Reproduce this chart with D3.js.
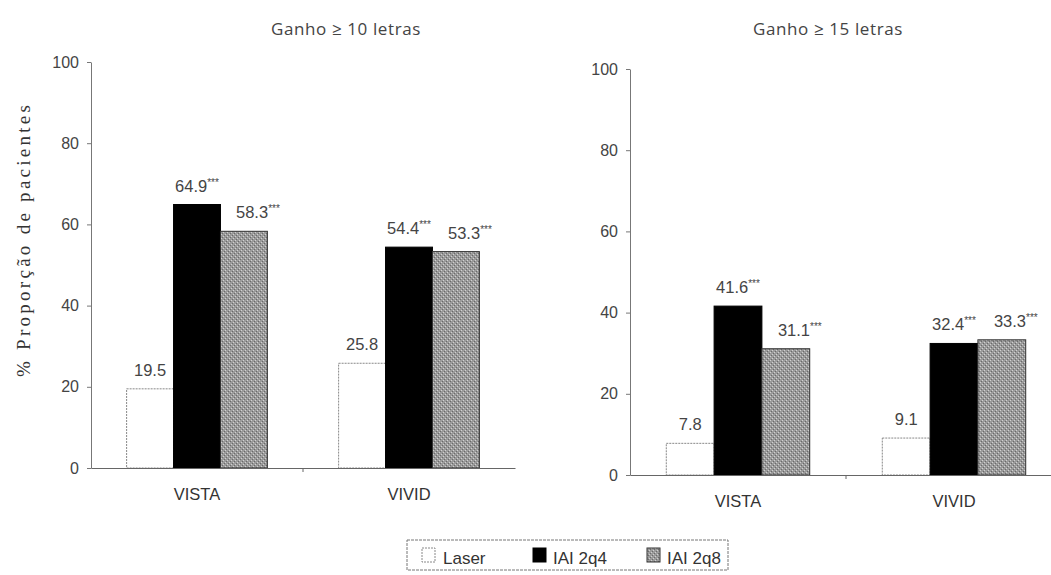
<!DOCTYPE html>
<html>
<head>
<meta charset="utf-8">
<script src="https://cdn.jsdelivr.net/npm/d3@7"></script>
<style>
  html, body { margin: 0; padding: 0; background: #fff; }
  svg { display: block; }
  text { fill: #333; }
</style>
</head>
<body>
<svg id="chart" width="1051" height="575"></svg>
<script>
// Studies on the x axis, treatment arms as bar series
const studies = ["VISTA", "VIVID"];
const arms = ["Laser", "IAI 2q4", "IAI 2q8"];

// % of patients gaining >= 10 letters (per study: Laser, IAI 2q4, IAI 2q8)
const gain10Vista = [19.5, 64.9, 58.3];
const gain10Vivid = [25.8, 54.4, 53.3];
// % of patients gaining >= 15 letters
const gain15Vista = [7.8, 41.6, 31.1];
const gain15Vivid = [9.1, 32.4, 33.3];

// significance markers shown next to each value
const markers = ["", "***", "***"];

const yTicks = [0, 20, 40, 60, 80, 100];
const panelTitles = ["Ganho \u2265 10 letras", "Ganho \u2265 15 letras"];
const yLabel = "% Proporção de pacientes";

const sans = "Liberation Sans, Arial, sans-serif";
const svg = d3.select("#chart");

// textured gray fill for the IAI 2q8 bars
const defs = svg.append("defs");
const pat = defs.append("pattern")
  .attr("id", "grayTex").attr("patternUnits", "userSpaceOnUse")
  .attr("width", 4).attr("height", 4);
pat.append("rect").attr("width", 4).attr("height", 4).attr("fill", "#9a9a9a");
pat.append("rect").attr("x", 0).attr("y", 0).attr("width", 1).attr("height", 1).attr("fill", "#d0d0d0");
pat.append("rect").attr("x", 2).attr("y", 2).attr("width", 1).attr("height", 1).attr("fill", "#d0d0d0");
pat.append("rect").attr("x", 1).attr("y", 3).attr("width", 1).attr("height", 1).attr("fill", "#6a6a6a");
pat.append("rect").attr("x", 3).attr("y", 1).attr("width", 1).attr("height", 1).attr("fill", "#6a6a6a");

const fills = { "Laser": "#ffffff", "IAI 2q4": "#000000", "IAI 2q8": "url(#grayTex)" };
const strokes = { "Laser": "#888", "IAI 2q4": "#000", "IAI 2q8": "#333" };
// horizontal nudge of each series' value label, so neighbouring labels don't collide
const labelShift = { "Laser": 0, "IAI 2q4": 0, "IAI 2q8": 14 };

const panels = [
  { title: panelTitles[0], data: [gain10Vista, gain10Vivid],
    x0: 91, x1: 515, yBottom: 468, yTop: 62, titleX: 346, titleY: 35 },
  { title: panelTitles[1], data: [gain15Vista, gain15Vivid],
    x0: 630, x1: 1062, yBottom: 475, yTop: 69, titleX: 828, titleY: 35 }
];

panels.forEach(p => {
  const g = svg.append("g");
  const y = d3.scaleLinear().domain([0, 100]).range([p.yBottom, p.yTop]);
  const x = d3.scaleBand().domain(studies).range([p.x0, p.x1]);
  const bw = x.bandwidth();
  const xi = d3.scaleBand().domain(arms).range([bw * 0.168, bw * 0.832]);

  // title
  g.append("text")
    .attr("x", p.titleX).attr("y", p.titleY)
    .attr("text-anchor", "middle")
    .attr("font-family", "Open Sans, Liberation Sans, sans-serif")
    .attr("font-size", 17).attr("letter-spacing", 0.6).style("fill", "#444")
    .text(p.title);

  // y axis
  const yAxis = d3.axisLeft(y).tickValues(yTicks).tickSize(4).tickSizeOuter(0);
  const ya = g.append("g").attr("transform", `translate(${p.x0},0)`).call(yAxis);
  ya.select(".domain").attr("stroke", "#777");
  ya.selectAll(".tick line").attr("stroke", "#777");
  ya.selectAll(".tick text")
    .attr("x", -12)
    .attr("font-family", sans)
    .attr("font-size", 16).style("fill", "#444");

  // bars
  studies.forEach((s, si) => {
    const vals = p.data[si];
    const grp = g.append("g").attr("transform", `translate(${x(s)},0)`);
    grp.selectAll("rect").data(arms).join("rect")
      .attr("x", a => xi(a))
      .attr("y", (a, i) => y(vals[i]))
      .attr("width", xi.bandwidth())
      .attr("height", (a, i) => y(0) - y(vals[i]))
      .attr("fill", a => fills[a])
      .attr("stroke", a => strokes[a])
      .attr("stroke-width", 1)
      .attr("stroke-dasharray", a => a === "Laser" ? "2,1" : null);

    // value labels with significance stars
    const lab = grp.selectAll("text.val").data(arms).join("text")
      .attr("class", "val")
      .attr("x", a => xi(a) + xi.bandwidth() / 2 + labelShift[a])
      .attr("y", (a, i) => y(vals[i]) - 13)
      .attr("text-anchor", "middle")
      .attr("font-family", sans)
      .attr("font-size", 16.5).style("fill", "#444");
    lab.append("tspan").text((a, i) => vals[i].toFixed(1));
    lab.append("tspan")
      .attr("font-size", 10).attr("dy", -6)
      .text((a, i) => markers[i]);
  });

  // x axis
  const xAxis = d3.axisBottom(x).tickSize(0).tickPadding(20);
  const xa = g.append("g").attr("transform", `translate(0,${p.yBottom})`).call(xAxis);
  xa.select(".domain").attr("stroke", "#666").attr("stroke-width", 1.2);
  xa.selectAll(".tick text")
    .attr("font-family", sans)
    .attr("font-size", 16.5).style("fill", "#333");
  // small tick between the two studies
  g.append("line")
    .attr("x1", x("VIVID")).attr("x2", x("VIVID"))
    .attr("y1", p.yBottom).attr("y2", p.yBottom + 4)
    .attr("stroke", "#666");
});

// y axis title (left panel only)
svg.append("text")
  .attr("transform", "translate(30,241) rotate(-90)")
  .attr("text-anchor", "middle")
  .attr("font-family", "Liberation Serif, Times New Roman, serif")
  .attr("font-size", 19).style("fill", "#333")
  .attr("textLength", 272).attr("lengthAdjust", "spacing")
  .text(yLabel);

// legend
const legend = svg.append("g").attr("transform", "translate(407,540)");
legend.append("rect")
  .attr("width", 321).attr("height", 30)
  .attr("fill", "#fff").attr("stroke", "#777").attr("stroke-width", 1)
  .attr("stroke-dasharray", "3,1");
const legX = [15, 126, 240];
const legTextX = [21, 20, 20];
arms.forEach((a, i) => {
  const it = legend.append("g").attr("transform", `translate(${legX[i]},8)`);
  it.append("rect").attr("width", 13).attr("height", 14)
    .attr("fill", fills[a]).attr("stroke", strokes[a])
    .attr("stroke-dasharray", a === "Laser" ? "2,1" : null);
  it.append("text").attr("x", legTextX[i]).attr("y", 16)
    .attr("font-family", sans)
    .attr("font-size", 17).style("fill", "#333")
    .text(a);
});
</script>
</body>
</html>
